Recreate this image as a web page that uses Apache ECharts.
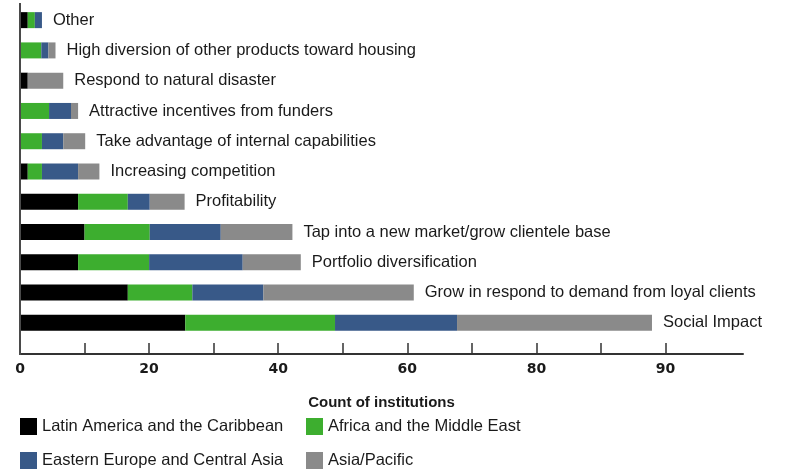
<!DOCTYPE html>
<html>
<head>
    <meta charset="utf-8">
    <title>Count of institutions</title>
    <script src="https://cdn.jsdelivr.net/npm/echarts@6.0.0/dist/echarts.min.js"></script>
    <style>
        html, body { margin: 0; padding: 0; background: #fff; }
        #grafico { width: 787px; height: 470px; }
    </style>
</head>
<body>
    <div id="grafico"></div>
    <script>
        // Categorias (de arriba hacia abajo)
        const categorias = [
            'Other',
            'High diversion of other products toward housing',
            'Respond to natural disaster',
            'Attractive incentives from funders',
            'Take advantage of internal capabilities',
            'Increasing competition',
            'Profitability',
            'Tap into a new market/grow clientele base',
            'Portfolio diversification',
            'Grow in respond to demand from loyal clients',
            'Social Impact'
        ];

        // Valores (unidades del eje)
        const latinAmerica = [1.2, 0, 1.2, 0, 0, 1.2, 9.0, 10.0, 9.0, 16.7, 25.6];
        const africaMiddleEast = [1.1, 3.3, 0, 4.5, 3.4, 2.2, 7.7, 10.1, 11.0, 10.0, 23.2];
        const easternEurope = [1.1, 1.1, 0, 3.4, 3.3, 5.6, 3.4, 11.0, 14.5, 11.0, 18.9];
        const asiaPacific = [0, 1.1, 5.5, 1.1, 3.4, 3.3, 5.4, 11.1, 9.0, 23.3, 30.2];

        const nombresSeries = [
            'Latin America and the Caribbean',
            'Africa and the Middle East',
            'Eastern Europe and Central Asia',
            'Asia/Pacific'
        ];
        const colores = ['#000000', '#3dae2f', '#385988', '#8a8a8a'];

        // Marcas del eje x y sus etiquetas (tal como aparecen)
        const valoresTicks = [0, 10, 20, 30, 40, 50, 60, 70, 80, 90, 100];
        const valoresEtiquetas = [0, 20, 40, 60, 80, 100];
        const etiquetasEje = ['0', '20', '40', '60', '80', '90'];

        const chart = echarts.init(document.getElementById('grafico'));
        const fuente = '"Liberation Sans", Arial, sans-serif';

        const datos = [latinAmerica, africaMiddleEast, easternEurope, asiaPacific];

        const series = datos.map(function (d, i) {
            const s = {
                name: nombresSeries[i],
                type: 'bar',
                stack: 'total',
                barWidth: 16,
                itemStyle: { color: colores[i] },
                emphasis: { disabled: true },
                data: d
            };
            if (i === datos.length - 1) {
                s.label = {
                    show: true,
                    position: 'right',
                    distance: 11,
                    fontFamily: fuente,
                    fontSize: 16.5,
                    color: '#1a1a1a',
                    formatter: function (p) { return categorias[p.dataIndex]; }
                };
            }
            return s;
        });

        // Dos columnas de leyenda
        const leyenda = function (left, nombres) {
            return {
                left: left,
                top: 418,
                height: 60,
                padding: 0,
                orient: 'vertical',
                icon: 'rect',
                itemWidth: 17,
                itemHeight: 17,
                itemGap: 17,
                selectedMode: false,
                textStyle: { fontFamily: fuente, fontSize: 16.5, color: '#1a1a1a' },
                data: nombres
            };
        };

        chart.setOption({
            animation: false,
            grid: { left: 20, right: 44, top: 5, bottom: 132 },
            xAxis: {
                type: 'value',
                min: 0,
                max: 112,
                offset: 16,
                name: 'Count of institutions',
                nameLocation: 'middle',
                nameGap: 41,
                nameTextStyle: { fontFamily: fuente, fontWeight: 'bold', fontSize: 15, color: '#1a1a1a' },
                axisLine: { show: true, lineStyle: { color: '#333', width: 2 } },
                axisTick: {
                    show: true,
                    inside: true,
                    length: 11,
                    customValues: valoresTicks,
                    lineStyle: { color: '#333', width: 1.5 }
                },
                axisLabel: {
                    customValues: valoresEtiquetas,
                    margin: 8,
                    fontFamily: '"DejaVu Sans", sans-serif',
                    fontWeight: 'bold',
                    fontSize: 14,
                    color: '#1a1a1a',
                    formatter: function (v) {
                        const i = valoresEtiquetas.indexOf(v);
                        return i >= 0 ? etiquetasEje[i] : '';
                    }
                },
                splitLine: { show: false }
            },
            yAxis: {
                type: 'category',
                inverse: true,
                data: categorias,
                axisLine: { show: false },
                axisTick: { show: false },
                axisLabel: { show: false }
            },
            legend: [
                leyenda(20, [nombresSeries[0], nombresSeries[2]]),
                leyenda(306, [nombresSeries[1], nombresSeries[3]])
            ],
            graphic: [{
                type: 'line',
                shape: { x1: 20, y1: 3, x2: 20, y2: 355 },
                style: { stroke: '#4a4a4a', lineWidth: 2 },
                z: 10
            }],
            series: series
        });
    </script>
</body>
</html>
